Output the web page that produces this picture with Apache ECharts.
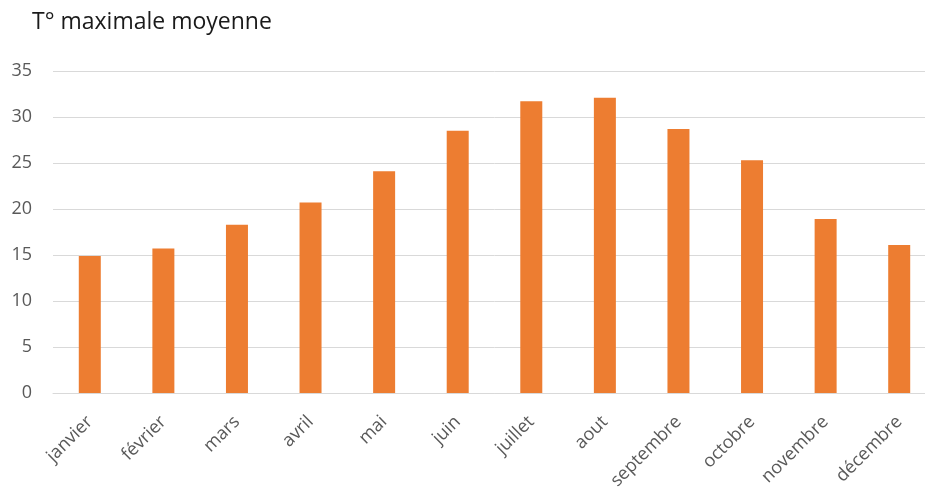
<!DOCTYPE html>
<html>
<head>
<meta charset="utf-8">
<script src="https://cdn.jsdelivr.net/npm/echarts@6/dist/echarts.min.js"></script>
<style>html,body{margin:0;padding:0;background:#fff;overflow:hidden;width:925px;height:495px;}#c{width:936px;height:495px;}</style>
</head>
<body>
<div id="c"></div>
<script>
const titleText = "T° maximale moyenne";
const categories = ["janvier","février","mars","avril","mai","juin","juillet","aout","septembre","octobre","novembre","décembre"];
const values = [14.9, 15.7, 18.3, 20.7, 24.1, 28.5, 31.7, 32.1, 28.7, 25.3, 18.9, 16.1];
const yMin = 0, yMax = 35, yStep = 5;

const chart = echarts.init(document.getElementById('c'), null, {renderer: 'canvas'});
chart.setOption({
  animation: false,
  backgroundColor: '#ffffff',
  title: {
    text: titleText, left: 27, top: 6,
    textStyle: {fontFamily: 'Open Sans', fontSize: 23, fontWeight: 'normal', color: '#1a1a1a'}
  },
  grid: {left: 53, right: 0, top: 71, height: 322, containLabel: false},
  xAxis: {
    type: 'category', data: categories,
    axisLine: {show: true, lineStyle: {color: '#d9d9d9', width: 1}},
    axisTick: {show: false},
    axisLabel: {rotate: 45, margin: 26, fontFamily: 'Open Sans', fontSize: 18, color: '#595959', interval: 0}
  },
  yAxis: {
    type: 'value', min: yMin, max: yMax, interval: yStep,
    axisLine: {show: false}, axisTick: {show: false},
    splitLine: {lineStyle: {color: '#d9d9d9', width: 1}},
    axisLabel: {margin: 21, fontFamily: 'Open Sans', fontSize: 18, color: '#595959'}
  },
  series: [{
    type: 'bar', data: values, barWidth: 22,
    itemStyle: {color: '#ED7D31'}
  }]
});
</script>
</body>
</html>
